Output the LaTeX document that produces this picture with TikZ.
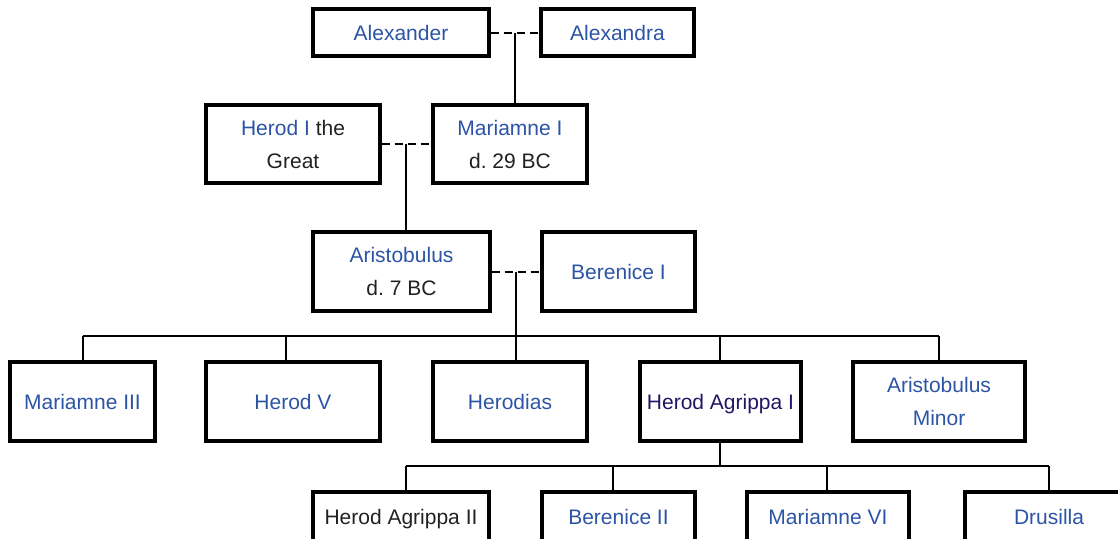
\documentclass[tikz,border=0pt]{standalone}
\usepackage{fontspec}
\setmainfont{Liberation Sans}
\frenchspacing
\definecolor{lnk}{RGB}{44,84,164}
\definecolor{vis}{RGB}{32,22,100}
\definecolor{txt}{RGB}{32,33,34}
\begin{document}
\begin{tikzpicture}[x=1pt,y=-1pt,
  box/.style={draw, line width=3.2pt, inner sep=0pt, align=center,
    font=\fontsize{21}{33}\selectfont, text=lnk},
  one/.style={text height=20pt, text depth=4.5pt},
  conn/.style={line width=2pt},
  marr/.style={conn, dash pattern=on 8pt off 5pt}]
\clip (0,0) rectangle (1118,538);
\useasboundingbox (0,0) rectangle (1118,538);
% generation 1
\node[box, one, minimum width=176pt, minimum height=47pt] (alexander) at (401,32.5) {Alexander};
\node[box, one, minimum width=153pt, minimum height=47pt] (alexandra) at (617.5,32.5) {Alexandra};
% generation 2
\node[box, minimum width=174pt, minimum height=78pt] (herod) at (293,144) {Herod I \textcolor{txt}{the}\\\textcolor{txt}{Great}};
\node[box, minimum width=154pt, minimum height=78pt] (mariamne) at (510,144) {Mariamne I\\\textcolor{txt}{d. 29 BC}};
% generation 3
\node[box, minimum width=177pt, minimum height=79pt] (aristobulus) at (401.5,271.5) {Aristobulus\\\textcolor{txt}{d. 7 BC}};
\node[box, one, minimum width=153pt, minimum height=79pt] (berenice) at (618.5,271.5) {Berenice I};
% generation 4
\node[box, one, minimum width=145pt, minimum height=79pt] (m3) at (82.5,401.5) {Mariamne III};
\node[box, one, minimum width=174pt, minimum height=79pt] (h5) at (293,401.5) {Herod V};
\node[box, one, minimum width=154pt, minimum height=79pt] (herodias) at (510,401.5) {Herodias};
\node[box, one, minimum width=161pt, minimum height=79pt, text=vis] (ha1) at (720.5,401.5) {Herod Agrippa I};
\node[box, minimum width=172pt, minimum height=79pt] (aminor) at (939,401.5) {Aristobulus\\Minor};
% generation 5
\node[box, one, minimum width=176pt, minimum height=50pt, text=txt] (ha2) at (401,517) {Herod Agrippa II};
\node[box, one, minimum width=153pt, minimum height=50pt] (b2) at (618.5,517) {Berenice II};
\node[box, one, minimum width=162pt, minimum height=50pt] (m6) at (828,517) {Mariamne VI};
\node[box, one, minimum width=168pt, minimum height=50pt] (drusilla) at (1049,517) {Drusilla};
% marriages
\draw[marr] (alexander.east) -- (alexandra.west);
\coordinate (c1) at (515,32.5);
\draw[conn] (c1) -- (c1 |- mariamne.north);
\draw[marr] (herod.east) -- (mariamne.west);
\coordinate (c2) at (406,144);
\draw[conn] (c2) -- (c2 |- aristobulus.north);
\draw[marr] (aristobulus.east) -- (berenice.west);
\coordinate (c3) at (516,271.5);
\draw[conn] (c3) -- (c3 |- herodias.north);
\coordinate (b1l) at (82.5,336);
\coordinate (b1r) at (939,336);
\coordinate (t2) at (286,336);
\coordinate (t4) at (720,336);
\draw[conn] (b1l) -- (b1r);
\draw[conn] (b1l) -- (m3.north);
\draw[conn] (t2) -- (t2 |- h5.north);
\draw[conn] (t4) -- (t4 |- ha1.north);
\draw[conn] (b1r) -- (aminor.north);
% children of Herod Agrippa I
\coordinate (bus2) at (720,466);
\draw[conn] (bus2 |- ha1.south) -- (bus2);
\coordinate (b2l) at (406,466);
\coordinate (b2r) at (1049,466);
\coordinate (u2) at (613,466);
\coordinate (u3) at (827,466);
\draw[conn] (b2l) -- (b2r);
\draw[conn] (b2l) -- (b2l |- ha2.north);
\draw[conn] (u2) -- (u2 |- b2.north);
\draw[conn] (u3) -- (u3 |- m6.north);
\draw[conn] (b2r) -- (drusilla.north);
\end{tikzpicture}
\end{document}
